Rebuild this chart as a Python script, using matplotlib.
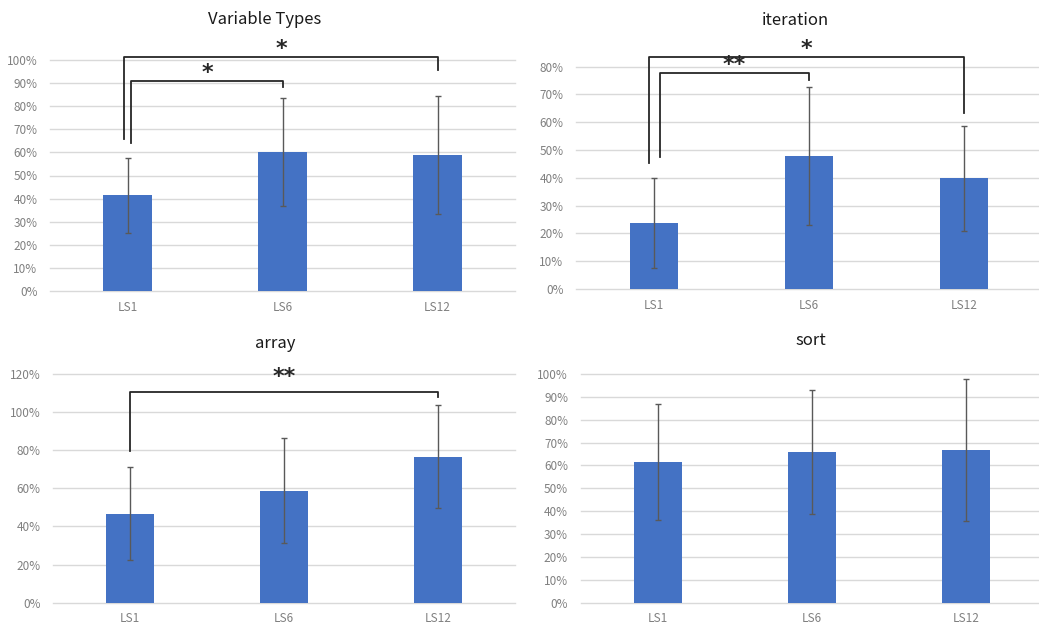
import matplotlib
matplotlib.use("Agg")
import matplotlib.pyplot as plt
from matplotlib.ticker import PercentFormatter, MultipleLocator

plt.rcParams['font.family'] = ['Noto Sans CJK JP', 'DejaVu Sans']

# Data ---------------------------------------------------------------
categories = ["LS1", "LS6", "LS12"]

titles = ["Variable Types", "iteration", "array", "sort"]

var_types_mean = [0.414, 0.601, 0.588]
var_types_err = [0.163, 0.233, 0.256]

iteration_mean = [0.239, 0.479, 0.398]
iteration_err = [0.162, 0.247, 0.190]

array_mean = [0.467, 0.588, 0.766]
array_err = [0.243, 0.276, 0.270]

sort_mean = [0.617, 0.658, 0.666]
sort_err = [0.254, 0.270, 0.310]

# y-axis upper limit and tick step for each panel
y_max = [1.0, 0.8, 1.2, 1.0]
y_step = [0.1, 0.1, 0.2, 0.1]

# significance brackets: (from, to, top, left end, right end, label, left shift)
var_types_sig = [(0, 2, 1.014, 0.656, 0.956, "*", -0.02),
                 (0, 1, 0.907, 0.642, 0.882, "*", 0.025)]
iteration_sig = [(0, 2, 0.835, 0.455, 0.635, "*", -0.03),
                 (0, 1, 0.777, 0.474, 0.752, "**", 0.04)]
array_sig = [(0, 2, 1.105, 0.797, 1.078, "**", 0.0)]
sort_sig = []

means = [var_types_mean, iteration_mean, array_mean, sort_mean]
errs = [var_types_err, iteration_err, array_err, sort_err]
sigs = [var_types_sig, iteration_sig, array_sig, sort_sig]

# Layout (pixel boxes of each plot area: left, top, right, bottom) -----
W, H = 1039, 628
boxes = [(50, 60, 515, 291),
         (576, 66.7, 1042, 289),
         (53.3, 374, 515, 602.7),
         (580.6, 374, 1043, 602.7)]
title_pos = [(265, 20), (795, 20.5), (275, 344), (811, 340.5)]
star_lift = [1.5, 1.5, 6.5, 0]  # lift of the significance stars, points

BAR = "#4472C4"
GRID = "#D9D9D9"
TICK = "#808080"
ERR = "#595959"
INK = "#262626"

fig = plt.figure(figsize=(W / 100, H / 100), dpi=100)


def rect(box):
    l, t, r, b = box
    return [l / W, 1 - b / H, (r - l) / W, (b - t) / H]


for k in range(4):
    ax = fig.add_axes(rect(boxes[k]))
    x = list(range(len(categories)))
    ax.bar(x, means[k], width=0.31, color=BAR, zorder=2)
    ax.errorbar(x, means[k], yerr=errs[k], fmt="none", ecolor=ERR,
                elinewidth=1.0, capsize=2.5, capthick=1.0, zorder=3)

    ax.set_xlim(-0.5, 2.5)
    ax.set_ylim(0, y_max[k])
    ax.yaxis.set_major_locator(MultipleLocator(y_step[k]))
    ax.yaxis.set_major_formatter(PercentFormatter(1.0, decimals=0))
    ax.set_xticks(x)
    ax.set_xticklabels(categories)
    ax.grid(axis="y", color=GRID, linewidth=1.0, zorder=0)
    for gl in ax.get_ygridlines():
        gl.set_clip_on(False)
    ax.set_axisbelow(True)
    for s in ax.spines.values():
        s.set_visible(False)
    ax.tick_params(axis="both", length=0, labelsize=8.5, labelcolor=TICK)
    ax.tick_params(axis="y", pad=9)
    ax.tick_params(axis="x", pad=7)

    for (i, j, top, yl, yr, label, dl) in sigs[k]:
        xl = i + dl
        xr = j
        ax.plot([xl, xl, xr, xr], [yl, top, top, yr], color=INK,
                linewidth=1.3, clip_on=False, zorder=4)
        ax.annotate(label, xy=((xl + xr) / 2, top), xytext=(0, star_lift[k]),
                    textcoords="offset points", ha="center", va="baseline",
                    fontsize=16, fontweight="bold", color=INK,
                    family="DejaVu Sans", annotation_clip=False)

    tx, ty = title_pos[k]
    fig.text(tx / W, 1 - ty / H, titles[k], ha="center", va="center",
             fontsize=12, color="#1a1a1a")

fig.savefig("out.png", dpi=100)
